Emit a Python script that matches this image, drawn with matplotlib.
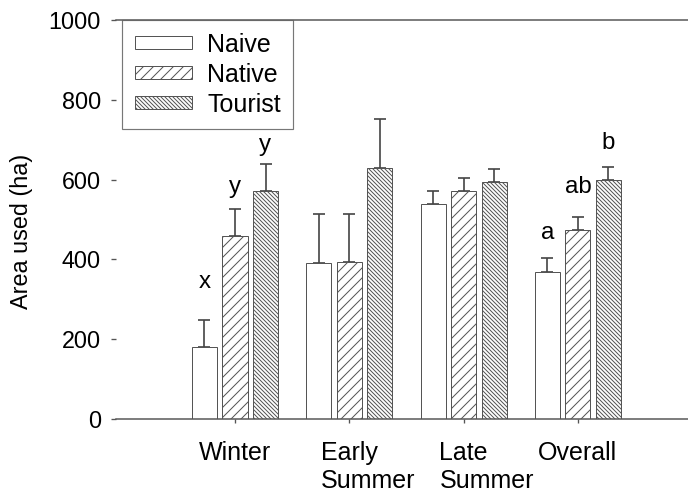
import matplotlib
matplotlib.use("Agg")
import matplotlib.pyplot as plt
import numpy as np

plt.rcParams['font.family'] = ['Liberation Sans', 'DejaVu Sans']
plt.rcParams['hatch.linewidth'] = 0.6
plt.rcParams['hatch.color'] = '#555555'

# Home-range area by season and group (mean + SE)
seasons = ["Winter", "Early", "Late", "Overall"]
second_line = ["", "Summer", "Summer", ""]
groups = ["Naive", "Native", "Tourist"]
naive = [180, 391, 539, 368]
native = [459, 393, 571, 474]
tourist = [571, 629, 594, 599]
naive_se = [68, 123, 32, 35]
native_se = [67, 121, 33, 33]
tourist_se = [68, 123, 32, 32]

# significance letters per season, one per group
letters = [["x", "y", "y"], ["", "", ""], ["", "", ""], ["a", "ab", "b"]]
letter_y = [[343, 581, 687], [0, 0, 0], [0, 0, 0], [466, 581, 692]]

yticks = [0, 200, 400, 600, 800, 1000]

edge = '#555555'
DPI = 120
fig = plt.figure(figsize=(688 / DPI, 493 / DPI), dpi=DPI)
ax = fig.add_axes([116 / 688, 74 / 493, 572 / 688, 399 / 493])

x = np.arange(len(seasons))
width = 0.219
step = 0.267
hatches = [None, '////', '\\' * 10]
values = [naive, native, tourist]
errors = [naive_se, native_se, tourist_se]

handles = []
for i, (vals, errs, h) in enumerate(zip(values, errors, hatches)):
    pos = x + (i - 1) * step
    bars = ax.bar(pos, vals, width, color='white', edgecolor=edge,
                  linewidth=0.6, hatch=h, label=groups[i], zorder=2)
    ax.errorbar(pos, vals, yerr=[np.zeros(len(errs)), errs], fmt='none',
                ecolor='#444444', elinewidth=1.0, capsize=3.4, capthick=1.0,
                zorder=1)
    handles.append(bars)
    for j in range(len(seasons)):
        if letters[j][i]:
            ax.text(pos[j], letter_y[j][i], letters[j][i], ha='center',
                    va='center', fontsize=14.5)

ax.set_xlim(-1.041, 3.963)
ax.set_ylim(0, 1000)
ax.set_yticks(yticks)
ax.set_xticks(x)
ax.set_xticklabels(seasons)

for side in ['left', 'right']:
    ax.spines[side].set_visible(False)
for side in ['top', 'bottom']:
    ax.spines[side].set_color(edge)
    ax.spines[side].set_linewidth(0.9)

ax.tick_params(axis='y', direction='out', length=3, width=0.8, color=edge,
               pad=6, labelsize=14)
ax.tick_params(axis='x', direction='out', length=2.5, width=0.8, color=edge,
               pad=10.5, labelsize=15)

# second line of two-line season names, left-aligned under the first line
for lbl, extra in zip(ax.get_xticklabels(), second_line):
    if extra:
        ax.annotate(extra, xy=(0, 0), xycoords=lbl, xytext=(0, -2.5),
                    textcoords='offset points', ha='left', va='top',
                    fontsize=15)

ax.set_ylabel("Area used (ha)", fontsize=14)
ax.yaxis.set_label_coords(-0.145, 0.47)

leg = ax.legend(handles=handles, labels=groups, loc='upper left',
                bbox_to_anchor=(6 / 572, 1.0), borderaxespad=0,
                fontsize=15, frameon=True, fancybox=False,
                handlelength=2.3, handleheight=0.44, handletextpad=0.6,
                labelspacing=0.24, borderpad=0.5)
leg.get_frame().set_edgecolor(edge)
leg.get_frame().set_linewidth(0.7)

fig.savefig('out.png', dpi=DPI)
